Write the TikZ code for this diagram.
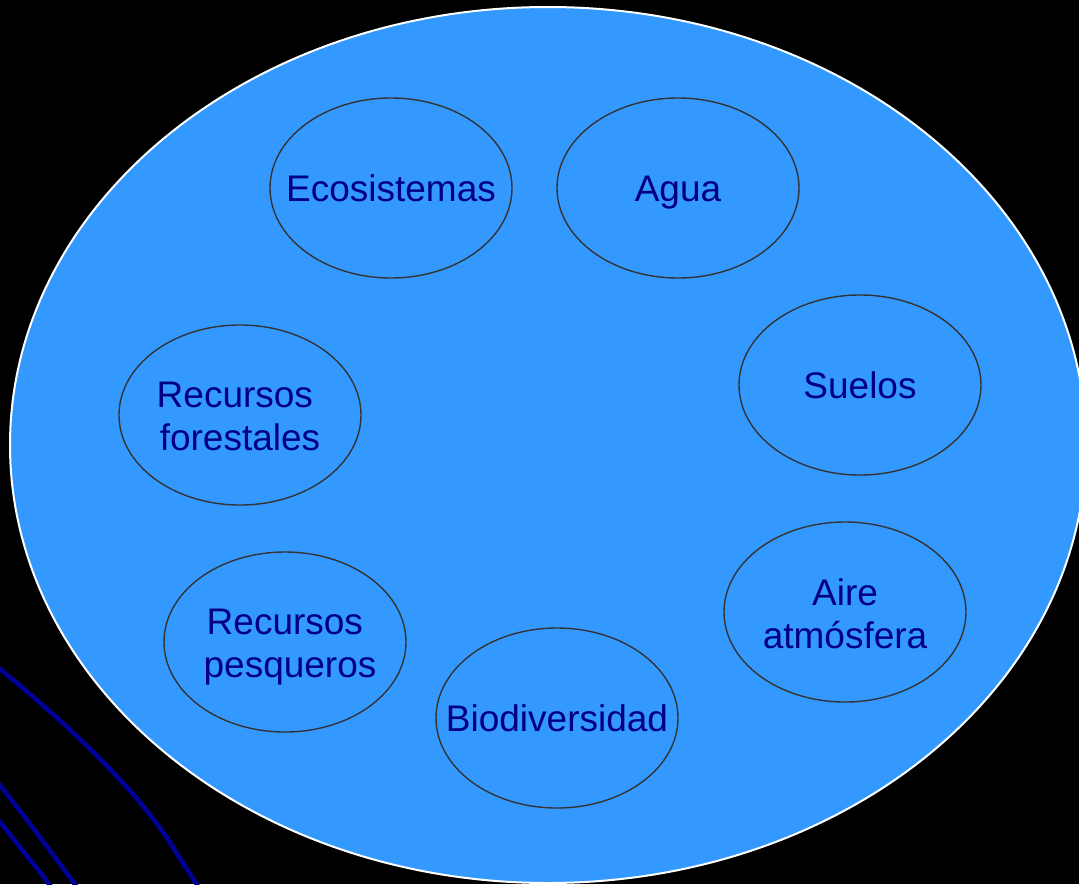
\documentclass[tikz,border=0pt]{standalone}
\usepackage{fontspec}
\setmainfont{Liberation Sans}
\usetikzlibrary{shapes.geometric}
\definecolor{bigblue}{HTML}{3399FF}
\definecolor{navytext}{HTML}{000080}
\definecolor{rim}{HTML}{333333}
\definecolor{swoosh}{HTML}{000099}
\tikzset{
  bubble/.style={ellipse, draw=rim, line width=1.4pt, minimum width=242pt, minimum height=180pt, inner sep=0pt},
  label text/.style={text=navytext, align=center, inner sep=0pt, font=\fontsize{37}{43}\selectfont},
  one line/.style={label text, text height=26.5pt, text depth=0pt},
  swooshline/.style={draw=swoosh, line width=4.5pt}
}
\begin{document}
\begin{tikzpicture}[x=1pt,y=-1pt]
\useasboundingbox (0,0) rectangle (1079,884);
\fill[black] (0,0) rectangle (1079,884);
\clip (0,0) rectangle (1079,884);
% background swooshes
\draw[swooshline] (-30,645) .. controls (40,700) and (120,770) .. (165,835) -- (210,905);
\draw[swooshline] (-20,760) .. controls (20,810) and (50,850) .. (90,905);
\draw[swooshline] (-20,797) .. controls (10,835) and (35,865) .. (65,905);
% big ellipse
\node[ellipse, fill=bigblue, draw=white, line width=2pt, minimum width=1076pt, minimum height=876pt, inner sep=0pt] (big) at (548,445) {};
% bubbles
\node[bubble] (eco) at (391,188) {};
\node[bubble] (agua) at (678,188) {};
\node[bubble] (suelos) at (860,385) {};
\node[bubble] (forest) at (240,415) {};
\node[bubble] (aire) at (845,612) {};
\node[bubble] (pesq) at (285,642) {};
\node[bubble] (bio) at (557,718) {};
% texts
\node[one line] (teco) at (eco) {Ecosistemas};
\node[one line] (tagua) at (agua) {Agua};
\node[one line] (tsuelos) at (suelos) {Suelos};
\node[one line] (tbio) at (bio) {Biodiversidad};
\node[label text] (tforest) at ([xshift=0pt,yshift=-1pt]forest.center) {Recursos\hspace*{10.3pt}\\forestales};
\node[label text] (taire) at ([yshift=-2pt]aire.center) {Aire\\atmósfera};
\node[label text] (tpesq) at ([xshift=5pt,yshift=-5pt]pesq.center) {Recursos\hspace*{10.3pt}\\pesqueros};
\end{tikzpicture}
\end{document}
